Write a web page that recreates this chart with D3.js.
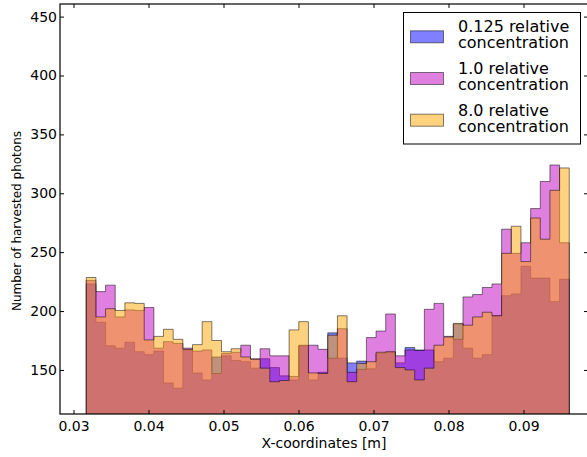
<!DOCTYPE html>
<html>
<head>
<meta charset="utf-8">
<script src="https://cdn.jsdelivr.net/npm/d3@7"></script>
<style>
  body { margin: 0; background: #fff; }
  svg { display: block; font-family: "DejaVu Sans", sans-serif; }
</style>
</head>
<body>
<div id="chart"></div>
<script>
// histogram bins (x in metres), 50 equal bins
var binStart = 0.0317, binEnd = 0.0961, numBins = 50;

// photon counts per bin
var series = ['0.125 relative\nconcentration', '1.0 relative\nconcentration', '8.0 relative\nconcentration'];
var conc0125 = [223, 190.5, 170.5, 168.5, 173.5, 165.5, 163, 166, 139, 134.5,
	167, 147.5, 141.5, 161, 162, 158, 157, 151.5, 159.5, 152,
	145, 141.5, 170.5, 141.5, 148, 181.5, 160, 156, 157.5, 151,
	164, 165, 156, 169, 167, 167, 157, 160, 189, 168.5,
	160, 163, 196, 213, 214.5, 238, 228, 228, 208, 227];
var conc1 = [226, 216.5, 222, 195, 201, 200.5, 203, 168.5, 174, 172.5,
	168.5, 166, 167, 147, 164, 165, 171, 159.5, 168, 162,
	162, 144.5, 171, 171, 167.5, 160, 185, 148, 150.5, 177.5,
	183, 197.5, 162, 167, 166.5, 201.5, 206.5, 178.5, 176, 212,
	214, 220, 223, 269.5, 249, 258, 287, 310, 324, 258];
var conc8 = [228.5, 195, 202, 200.5, 207, 206.5, 175.5, 178.5, 184.5, 176,
	167.5, 171.5, 191, 175, 165.5, 168, 161, 159, 151.5, 140,
	141, 184, 191, 147.5, 147, 179.5, 196, 140, 155.5, 157,
	165, 165.5, 152, 150, 141.5, 151.5, 171, 178, 189.5, 188,
	195, 199, 196, 249, 272, 242, 279, 261, 302.5, 321.5];
var colors = ['#0000ff', '#bf00bf', '#ffa500'];

var xTicks = [0.03, 0.04, 0.05, 0.06, 0.07, 0.08, 0.09];
var yTicks = [150, 200, 250, 300, 350, 400, 450];

var W = 587, H = 457;
var pLeft = 60, pRight = 588, pTop = 4, pBottom = 414;

var x = d3.scaleLinear().domain([0.0282, 0.0986]).range([pLeft, pRight]);
var y = d3.scaleLinear().domain([112.6, 460.7]).range([pBottom, pTop]);

var svg = d3.select('#chart').append('svg')
	.attr('width', W)
	.attr('height', H);

svg.append('clipPath').attr('id', 'plotclip')
	.append('rect')
	.attr('x', pLeft).attr('y', pTop)
	.attr('width', pRight - pLeft).attr('height', pBottom - pTop);

var binWidth = (binEnd - binStart) / numBins;
var area = d3.area()
	.curve(d3.curveStepAfter)
	.x(function(d){ return x(d[0]); })
	.y0(y(0))
	.y1(function(d){ return y(d[1]); });

var plot = svg.append('g').attr('clip-path', 'url(#plotclip)');
[conc0125, conc1, conc8].forEach(function(vals, k){
	var pts = vals.map(function(v, i){ return [binStart + i*binWidth, v]; });
	pts.push([binEnd, vals[vals.length - 1]]);
	plot.append('path')
		.datum(pts)
		.attr('d', area)
		.attr('fill', colors[k])
		.attr('fill-opacity', 0.5)
		.attr('stroke', '#000')
		.attr('stroke-opacity', 0.5)
		.attr('stroke-width', 1);
});

// axes, ticks pointing inwards on all four sides
var fmt = function(d){ return d3.format('.2f')(d); };
var gx = svg.append('g').attr('transform', 'translate(0,' + pBottom + ')')
	.call(d3.axisBottom(x).tickValues(xTicks).tickFormat(fmt).tickSizeInner(-4).tickSizeOuter(0).tickPadding(7));
var gxt = svg.append('g').attr('transform', 'translate(0,' + pTop + ')')
	.call(d3.axisTop(x).tickValues(xTicks).tickFormat('').tickSizeInner(-4).tickSizeOuter(0));
var gy = svg.append('g').attr('transform', 'translate(' + pLeft + ',0)')
	.call(d3.axisLeft(y).tickValues(yTicks).tickSizeInner(-4).tickSizeOuter(0).tickPadding(3));
var gyr = svg.append('g').attr('transform', 'translate(' + pRight + ',0)')
	.call(d3.axisRight(y).tickValues(yTicks).tickFormat('').tickSizeInner(-4).tickSizeOuter(0));

[gx, gxt, gy, gyr].forEach(function(g){
	g.select('.domain').remove();
	g.selectAll('.tick line').attr('stroke', '#000').attr('stroke-width', 1);
	g.selectAll('.tick text').attr('fill', '#000').attr('font-size', 14)
		.attr('font-family', '"DejaVu Sans", sans-serif');
});

svg.append('rect')
	.attr('x', pLeft).attr('y', pTop)
	.attr('width', pRight - pLeft).attr('height', pBottom - pTop)
	.attr('fill', 'none')
	.attr('stroke', '#000')
	.attr('stroke-width', 1.2);

svg.append('text')
	.attr('x', (pLeft + pRight)/2)
	.attr('y', 448)
	.attr('text-anchor', 'middle')
	.attr('font-size', 14)
	.text('X-coordinates [m]');

svg.append('text')
	.attr('transform', 'translate(21,221) rotate(-90)')
	.attr('text-anchor', 'middle')
	.attr('font-size', 12)
	.text('Number of harvested photons');

// legend
var legend = svg.append('g');
legend.append('rect')
	.attr('x', 403.5).attr('y', 12.5)
	.attr('width', 177).attr('height', 131.5)
	.attr('fill', '#fff')
	.attr('stroke', '#000')
	.attr('stroke-width', 1);
series.forEach(function(name, k){
	var by = 32.3 + k*41.7;
	legend.append('rect')
		.attr('x', 410.5).attr('y', by - 1.5)
		.attr('width', 33).attr('height', 12)
		.attr('fill', colors[k])
		.attr('fill-opacity', 0.5)
		.attr('stroke', '#000')
		.attr('stroke-opacity', 0.5);
	var t = legend.append('text')
		.attr('x', 458)
		.attr('y', by)
		.attr('font-size', 16);
	name.split('\n').forEach(function(line, j){
		t.append('tspan').attr('x', 458).attr('y', by + j*16).text(line);
	});
});
</script>
</body>
</html>
